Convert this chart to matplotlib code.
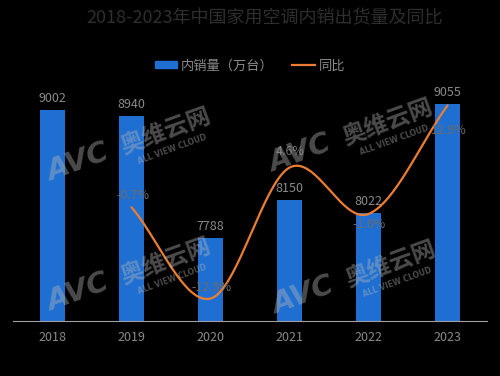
import matplotlib
matplotlib.use("Agg")
import matplotlib.pyplot as plt
import numpy as np
from matplotlib.patches import Patch
from matplotlib.lines import Line2D

plt.rcParams['font.family'] = ['Noto Sans CJK SC', 'DejaVu Sans']

# data
years = ['2018', '2019', '2020', '2021', '2022', '2023']
sales = [9002, 8940, 7788, 8150, 8022, 9055]           # 万台
yoy_years = ['2019', '2020', '2021', '2022', '2023']
yoy = [-0.7, -12.9, 4.6, -1.6, 12.9]                   # %

BAR_C = '#1f6fd2'
LINE_C = '#ed7d31'
W, H = 500, 376


def catmull_rom(x, y, n=40):
    """Smooth curve through the points, like Excel's smoothed line."""
    x = np.asarray(x, float)
    y = np.asarray(y, float)
    px = np.concatenate([[2 * x[0] - x[1]], x, [2 * x[-1] - x[-2]]])
    py = np.concatenate([[2 * y[0] - y[1]], y, [2 * y[-1] - y[-2]]])
    xs, ys = [], []
    t = np.linspace(0, 1, n)
    for i in range(1, len(px) - 2):
        for p, out in ((px, xs), (py, ys)):
            p0, p1, p2, p3 = p[i - 1], p[i], p[i + 1], p[i + 2]
            out.append(0.5 * ((2 * p1) + (-p0 + p2) * t
                              + (2 * p0 - 5 * p1 + 4 * p2 - p3) * t ** 2
                              + (-p0 + 3 * p1 - 3 * p2 + p3) * t ** 3))
    return np.concatenate(xs), np.concatenate(ys)


fig = plt.figure(figsize=(W / 100, H / 100), dpi=100, facecolor='black')
ax = fig.add_axes([13 / W, 1 - 321 / H, 474 / W, 232 / H])
ax.set_facecolor('black')

xpos = np.arange(len(years))
ax.bar(xpos, sales, width=0.32, color=BAR_C, zorder=2)
ax.set_xlim(-0.5, 5.5)
ax.set_ylim(7000, 9200)
ax.set_yticks([])
ax.set_xticks(xpos)
ax.set_xticklabels(years, color='#8a8a8a', fontsize=9)
ax.tick_params(axis='x', length=0, pad=7)
for s in ['top', 'left', 'right']:
    ax.spines[s].set_visible(False)
ax.spines['bottom'].set_color('#a0a0a0')
ax.spines['bottom'].set_linewidth(0.8)

for x, v in zip(xpos, sales):
    ax.annotate(str(v), (x, v), xytext=(0, 5), textcoords='offset pixels',
                ha='center', va='bottom', color='#8a8a8a', fontsize=9)

ax2 = ax.twinx()
ax2.set_ylim(-15.9, 15.1)
ax2.set_yticks([])
ax2.axis('off')
yx = np.array([years.index(y) for y in yoy_years])
sx, sy = catmull_rom(yx, yoy)
ax2.plot(sx, sy, color=LINE_C, lw=1.6, zorder=3, solid_capstyle='round')

label_dy = [12, 11, 16, -11, -25]   # pixel offsets of the % labels
for x, v, dy in zip(yx, yoy, label_dy):
    ax2.annotate(f'{v:.1f}%', (x, v), xytext=(1, dy), textcoords='offset pixels',
                 ha='center', va='center', color='#6a6a6a', fontsize=9)

# title and legend
fig.text(0.53, 1 - 18 / H, '2018-2023年中国家用空调内销出货量及同比',
         ha='center', va='center', color='#2e2e2e', fontsize=13)
handles = [Patch(color=BAR_C), Line2D([0], [0], color=LINE_C, lw=1.6)]
leg = fig.legend(handles, ['内销量（万台）', '同比'], loc='center',
                 bbox_to_anchor=(0.5, 1 - 66 / H), ncol=2, frameon=False,
                 fontsize=9.5, handlelength=1.7, handleheight=0.4,
                 handletextpad=0.3, columnspacing=1.4)
for t in leg.get_texts():
    t.set_color('#8a8a8a')

# AVC watermarks
wm_anchor = [(130, 147), (352, 138), (130, 277), (355, 280)]
for cx, cy in wm_anchor:
    kw = dict(ha='center', va='center', rotation=20, color='#b4b4b4',
              alpha=0.42, zorder=10, fontweight='bold')
    fig.text((cx - 52) / W, 1 - (cy + 15) / H, 'AVC', fontsize=21,
             style='italic', family='DejaVu Sans', **kw)
    fig.text((cx + 36) / W, 1 - (cy - 16) / H, '奥维云网', fontsize=17, **kw)
    fig.text((cx + 42) / W, 1 - (cy + 2) / H, 'ALL VIEW CLOUD', fontsize=5.5,
             family='DejaVu Sans', **kw)

fig.savefig('out.png', dpi=100, facecolor='black')
